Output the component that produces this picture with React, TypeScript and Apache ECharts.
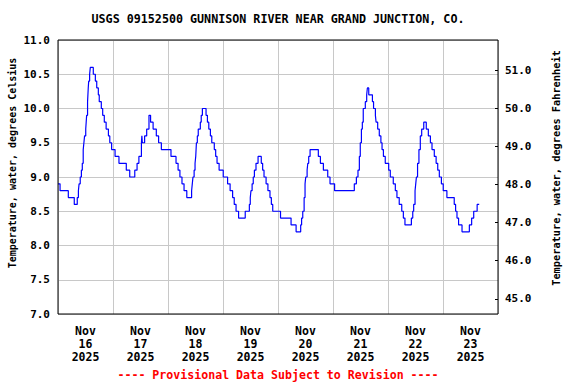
import React, { useEffect, useRef } from "react";
import * as echarts from "echarts";

const TITLE = "USGS 09152500 GUNNISON RIVER NEAR GRAND JUNCTION, CO.";
const LEFT_NAME = "Temperature, water, degrees Celsius";
const RIGHT_NAME = "Temperature, water, degrees Fahrenheit";
const FOOTER = "---- Provisional Data Subject to Revision ----";
const DAY_LABELS = ["16", "17", "18", "19", "20", "21", "22", "23"];
const LABEL_HOURS = [12, 36, 60, 84, 108, 132, 156, 180];
const F_TICKS = [45, 46, 47, 48, 49, 50, 51];

// hours since Nov 16 00:00 where the reading changes
const HOURS = [
  0, 0.9, 4.5, 7.1, 8.4, 8.9, 9.2, 9.7, 10.2, 10.6, 11.0, 11.3, 11.6, 12.1, 12.3, 12.5, 12.9, 13.2, 13.4, 13.8,
  14.1, 15.4, 16.3, 16.9, 17.6, 18.0, 18.9, 19.5, 20.2, 21.0, 22.0, 22.6, 23.4, 24.9, 26.6, 29.8, 31.3, 33.5,
  34.5, 35.3, 36.4, 36.6, 36.8, 37.8, 38.7, 39.7, 40.4, 41.5, 42.9, 43.9, 45.1,
  49.3, 51.5, 52.4, 53.2, 54.1, 55.0, 56.2, 58.3, 58.6, 58.9, 59.4, 59.8, 60.1, 60.4, 60.8, 61.2, 62.1, 62.5, 63.0,
  64.6, 65.2, 65.8, 66.5, 67.1, 68.2, 68.8, 69.4, 70.3, 72.1, 74.0, 75.1, 76.2, 76.9, 77.7, 78.8, 81.7, 83.5,
  83.9, 84.2, 84.7, 85.2, 85.7, 86.4, 87.3, 88.7, 89.3, 89.9, 90.8, 91.6, 92.5, 93.1, 93.7, 97.1, 101.7, 103.9,
  105.9, 106.3, 106.8, 107.4, 107.8, 108.1, 108.7, 109.0, 109.4, 110.0, 113.6, 114.5, 115.8, 117.7, 118.7, 120.7,
  129.3, 130.2, 130.9, 131.5, 131.9, 132.4, 132.8, 133.2, 134.1, 134.7, 135.0, 135.6, 137.2, 137.7, 138.5, 138.8,
  139.5, 140.2, 140.9, 141.4, 142.0, 142.8, 144.3, 145.0, 146.3, 147.2, 147.9, 148.9, 150.0, 150.7, 151.4, 154.2,
  154.8, 155.2, 155.8, 156.1, 156.4, 156.9, 157.5, 158.1, 158.7, 159.6, 160.7, 161.6, 162.5, 163.2, 164.2, 165.0,
  165.7, 166.4, 167.3, 168.1, 169.7, 172.9, 173.5, 174.1, 174.8, 176.3, 179.5, 180.5, 181.4, 182.9, 183.8,
];

const TEMPS_C = [
  8.9, 8.8, 8.7, 8.6, 8.7, 8.8, 8.9, 9.0, 9.1, 9.2, 9.4, 9.5, 9.6, 9.7, 9.8, 9.9, 10.1, 10.3, 10.4, 10.5,
  10.6, 10.5, 10.4, 10.3, 10.2, 10.1, 10.0, 9.9, 9.8, 9.7, 9.6, 9.5, 9.4, 9.3, 9.2, 9.1, 9.0, 9.1,
  9.2, 9.3, 9.5, 9.6, 9.5, 9.6, 9.7, 9.9, 9.8, 9.7, 9.6, 9.5, 9.4,
  9.3, 9.2, 9.1, 9.0, 8.9, 8.8, 8.7, 8.8, 8.9, 9.0, 9.1, 9.2, 9.3, 9.5, 9.6, 9.7, 9.8, 9.9, 10.0,
  9.9, 9.8, 9.7, 9.6, 9.5, 9.4, 9.3, 9.2, 9.1, 9.0, 8.9, 8.8, 8.7, 8.6, 8.5, 8.4, 8.5, 8.6,
  8.7, 8.8, 8.9, 9.0, 9.1, 9.2, 9.3, 9.2, 9.1, 9.0, 8.9, 8.8, 8.7, 8.6, 8.5, 8.4, 8.3, 8.2,
  8.3, 8.4, 8.5, 8.7, 8.9, 9.0, 9.1, 9.2, 9.3, 9.4, 9.3, 9.2, 9.1, 9.0, 8.9, 8.8,
  8.9, 9.0, 9.1, 9.3, 9.5, 9.7, 9.8, 10.0, 10.1, 10.2, 10.3, 10.2, 10.1, 10.0, 9.9, 9.8,
  9.7, 9.6, 9.5, 9.4, 9.3, 9.2, 9.1, 9.0, 8.9, 8.8, 8.7, 8.6, 8.5, 8.4, 8.3, 8.4,
  8.5, 8.6, 8.8, 8.9, 9.0, 9.2, 9.4, 9.6, 9.7, 9.8, 9.7, 9.6, 9.5, 9.4, 9.3, 9.2,
  9.1, 9.0, 8.9, 8.8, 8.7, 8.6, 8.5, 8.4, 8.3, 8.2, 8.3, 8.4, 8.5, 8.6, 8.6,
];

const FONT = "'DejaVu Sans Mono', monospace";

export default function App() {
  const ref = useRef<HTMLDivElement>(null);

  useEffect(() => {
    document.body.style.margin = "0";
    if (!ref.current) return;
    const chart = echarts.init(ref.current, undefined, { renderer: "svg" });
    const data = HOURS.map((h, i) => [h, TEMPS_C[i]]);

    chart.setOption({
      animation: false,
      backgroundColor: "#ffffff",
      grid: {
        left: 58,
        right: 78,
        top: 40,
        bottom: 70,
        show: true,
        borderColor: "#000000",
        borderWidth: 1,
        backgroundColor: "transparent",
        z: 10,
      },
      xAxis: {
        type: "value",
        min: 0,
        max: 192,
        interval: 24,
        axisLine: { show: false },
        axisTick: { show: false },
        splitLine: { show: true, lineStyle: { color: "#c8c8c8", width: 1 } },
        axisLabel: {
          customValues: LABEL_HOURS,
          formatter: (v: number) => {
            const idx = Math.floor(v / 24);
            return "Nov\n" + DAY_LABELS[idx] + "\n2025";
          },
          fontFamily: FONT,
          fontWeight: "bold",
          fontSize: 11.5,
          lineHeight: 12.8,
          color: "#000000",
          margin: 11,
        },
      },
      yAxis: [
        {
          type: "value",
          min: 7,
          max: 11,
          interval: 0.5,
          axisLine: { show: false },
          axisTick: { show: false },
          splitLine: { show: true, lineStyle: { color: "#c8c8c8", width: 1 } },
          axisLabel: {
            formatter: (v: number) => v.toFixed(1),
            fontFamily: FONT,
            fontWeight: "bold",
            fontSize: 11,
            color: "#000000",
            margin: 8,
          },
        },
        {
          type: "value",
          position: "right",
          min: 44.6,
          max: 51.8,
          axisLine: { show: false },
          splitLine: { show: false },
          axisTick: {
            show: true,
            inside: true,
            length: 3,
            customValues: F_TICKS,
            lineStyle: { color: "#000000" },
          },
          axisLabel: {
            customValues: F_TICKS,
            formatter: (v: number) => v.toFixed(1),
            fontFamily: FONT,
            fontWeight: "bold",
            fontSize: 11,
            color: "#000000",
            margin: 7,
          },
        },
      ],
      series: [
        {
          type: "line",
          data,
          step: "end",
          showSymbol: false,
          symbol: "none",
          lineStyle: { color: "#0000ff", width: 1.2 },
          yAxisIndex: 0,
          z: 5,
        },
      ],
      graphic: [
        {
          type: "text",
          x: 278,
          y: 19,
          style: {
            text: TITLE,
            fontFamily: FONT,
            fontWeight: "bold",
            fontSize: 11.7,
            fill: "#000000",
            textAlign: "center",
            textVerticalAlign: "middle",
          },
        },
        {
          type: "text",
          x: 12,
          y: 163,
          rotation: Math.PI / 2,
          style: {
            text: LEFT_NAME,
            fontFamily: FONT,
            fontWeight: "bold",
            fontSize: 10,
            fill: "#000000",
            textAlign: "center",
            textVerticalAlign: "middle",
          },
        },
        {
          type: "text",
          x: 556,
          y: 168,
          rotation: Math.PI / 2,
          style: {
            text: RIGHT_NAME,
            fontFamily: FONT,
            fontWeight: "bold",
            fontSize: 10.3,
            fill: "#000000",
            textAlign: "center",
            textVerticalAlign: "middle",
          },
        },
        {
          type: "text",
          x: 278,
          y: 375,
          style: {
            text: FOOTER,
            fontFamily: FONT,
            fontWeight: "bold",
            fontSize: 11.6,
            fill: "#ff0000",
            textAlign: "center",
            textVerticalAlign: "middle",
          },
        },
      ],
    });

    return () => chart.dispose();
  }, []);

  return (
    <div
      ref={ref}
      style={{ position: "absolute", left: 0, top: 0, width: 576, height: 384 }}
    />
  );
}
